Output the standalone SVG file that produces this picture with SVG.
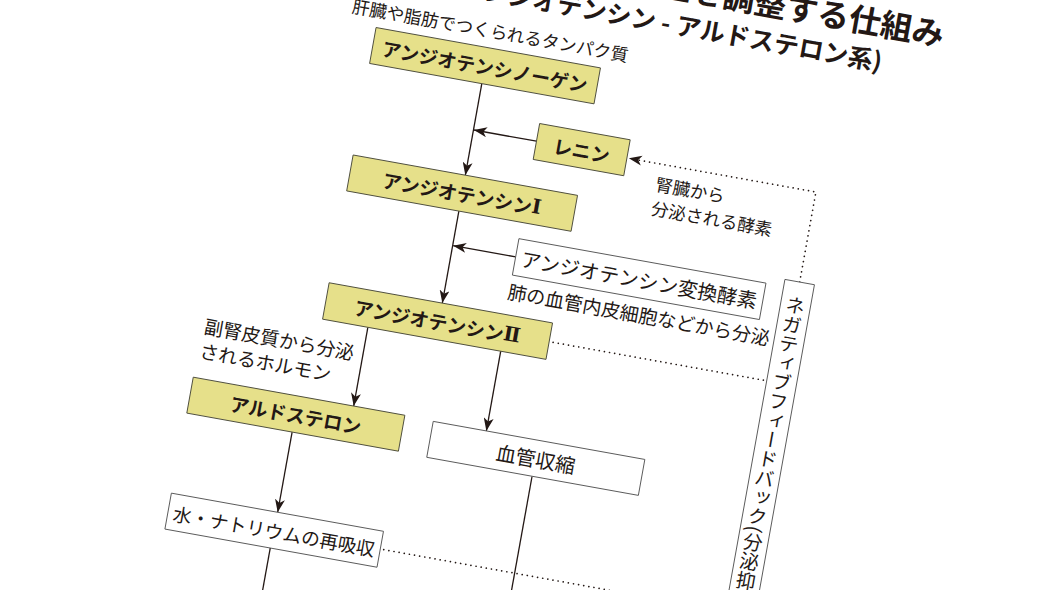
<svg xmlns="http://www.w3.org/2000/svg" width="1050" height="590" viewBox="0 0 1050 590">
<defs>
<style>
text{font-family:"Noto Sans CJK JP","Noto Sans CJK SC",sans-serif;fill:#231815}
.title{font-weight:700}
.yb{fill:#e6e08a;stroke:#4a4a3a;stroke-width:0.9}
.wb{fill:#ffffff;stroke:#555555;stroke-width:0.9}
.yl{font-size:19px;font-weight:700;text-anchor:middle;dominant-baseline:central}
.wl{font-size:20px;text-anchor:middle;dominant-baseline:central}
.note{font-size:17.5px}
.note19{font-size:19px}
.rn{font-family:"DejaVu Serif","Liberation Serif",serif;font-weight:700}
.solid{fill:none;stroke:#231815;stroke-width:1.3}
.dot{fill:none;stroke:#231815;stroke-width:1.7;stroke-dasharray:0.01 5.2;stroke-linecap:round}
</style>
<marker id="ah" viewBox="0 0 13 10" refX="13" refY="5" markerWidth="13" markerHeight="10" markerUnits="userSpaceOnUse" orient="auto">
<path d="M0,0 L13,5 L0,10 L3.5,5 Z" fill="#231815"/>
</marker>
</defs>
<rect x="0" y="0" width="1050" height="590" fill="#ffffff"/>
<g transform="rotate(10.2)">
<g id="title">
<text class="title" x="935" y="-121" font-size="32" text-anchor="end">血圧を調整する仕組み</text>
<text class="title" x="879" y="-86" font-size="25" text-anchor="end">(レニン - アンジオテンシン - アルドステロン系)</text>
</g>
<g id="connectors">
<line class="solid" x1="489" y1="-3" x2="489" y2="90" marker-end="url(#ah)"/>
<line class="solid" x1="553" y1="44" x2="489.5" y2="44" marker-end="url(#ah)"/>
<line class="solid" x1="489" y1="126.5" x2="489" y2="220" marker-end="url(#ah)"/>
<line class="solid" x1="553" y1="161.5" x2="489.5" y2="161.5" marker-end="url(#ah)"/>
<line class="solid" x1="420" y1="257" x2="420" y2="337" marker-end="url(#ah)"/>
<line class="solid" x1="555" y1="257" x2="555" y2="338" marker-end="url(#ah)"/>
<line class="solid" x1="364" y1="373.5" x2="364" y2="455" marker-end="url(#ah)"/>
<line class="solid" x1="363" y1="491" x2="363" y2="580"/>
<line class="solid" x1="608" y1="374.5" x2="608" y2="580"/>
<path class="dot" d="M837,136 V44.5 H650"/>
<path d="M647,44.5 L660,39.5 L656.5,44.5 L660,49.5 Z" fill="#231815"/>
<path class="dot" d="M605,239 H822"/>
<path class="dot" d="M475,473 H822"/>
</g>
<g id="n-angiotensinogen">
<rect class="yb" x="375" y="-39.5" width="228" height="36.5"/>
<text class="yl" x="489" y="-21.25">アンジオテンシノーゲン</text>
</g>
<g id="note-liver">
<text class="note" x="348" y="-50">肝臓や脂肪でつくられるタンパク質</text>
</g>
<g id="n-renin">
<rect class="yb" x="553" y="26" width="92" height="36.5"/>
<text class="yl" x="599" y="44.25">レニン</text>
</g>
<g id="note-renin">
<text class="note" x="678" y="71.5">腎臓から</text>
<text class="note" x="678" y="96">分泌される酵素</text>
</g>
<g id="n-angiotensin1">
<rect class="yb" x="375" y="90" width="228" height="36.5"/>
<text class="yl" x="489" y="108.25">アンジオテンシン<tspan class="rn" font-size="20">Ⅰ</tspan></text>
</g>
<g id="n-ace">
<rect class="wb" x="553" y="143" width="251" height="37"/>
<text class="wl" x="678.5" y="161.5">アンジオテンシン変換酵素</text>
</g>
<g id="note-ace">
<text class="note19" x="551.5" y="204">肺の血管内皮細胞などから分泌</text>
</g>
<g id="n-angiotensin2">
<rect class="yb" x="374" y="220" width="227" height="37"/>
<text class="yl" x="487.5" y="238.5">アンジオテンシン<tspan class="rn" font-size="20">Ⅱ</tspan></text>
</g>
<g id="note-adrenal">
<text class="note19" x="259" y="292">副腎皮質から分泌</text>
<text class="note19" x="259" y="317">されるホルモン</text>
</g>
<g id="n-aldosterone">
<rect class="yb" x="257" y="337" width="215" height="36.5"/>
<text class="yl" x="364.5" y="355.25">アルドステロン</text>
</g>
<g id="n-vasoconstriction">
<rect class="wb" x="501" y="338" width="215" height="36.5"/>
<text class="wl" x="608.5" y="356.25">血管収縮</text>
</g>
<g id="n-reabsorption">
<rect class="wb" x="256" y="455" width="215.5" height="36.5"/>
<text class="wl" x="363.75" y="473.25" style="font-size:18.6px">水・ナトリウムの再吸収</text>
</g>
<g id="n-feedback">
<rect class="wb" x="822" y="136" width="30" height="400"/>
<text x="837" y="150" font-size="19.5" style="writing-mode:vertical-rl">ネガティブフィードバック(分泌抑制)</text>
</g>
</g>
</svg>
